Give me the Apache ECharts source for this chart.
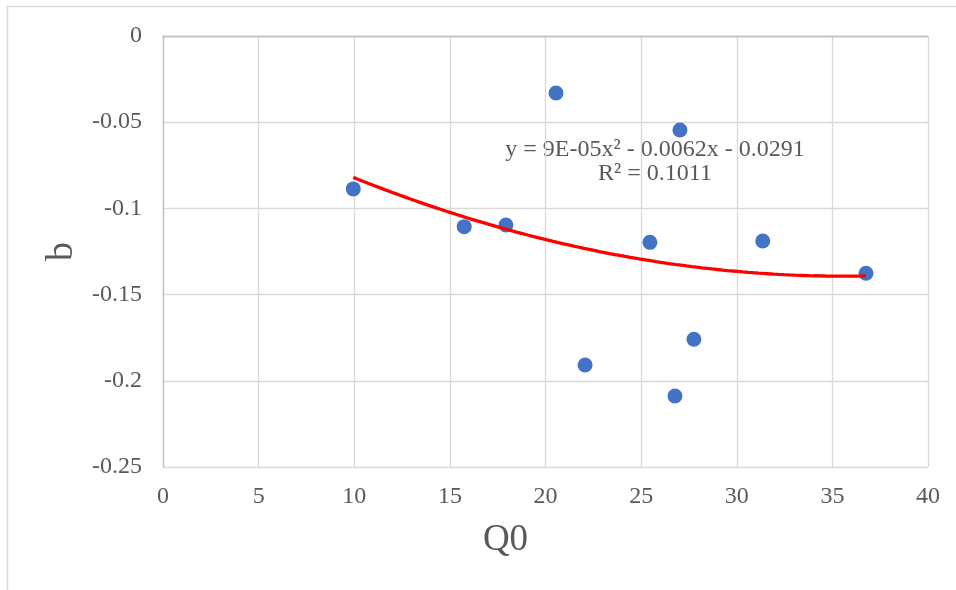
<!DOCTYPE html>
<html>
<head>
<meta charset="utf-8">
<script src="https://cdn.jsdelivr.net/npm/echarts@6/dist/echarts.min.js"></script>
<style>html,body{margin:0;padding:0;background:#fff}#c{width:956px;height:590px}</style>
</head>
<body>
<div id="c"></div>
<script>
// Data
var q0Values = [9.95, 15.75, 17.93, 20.55, 22.07, 25.46, 27.03, 26.77, 27.76, 31.36, 36.76];
var bValues = [-0.0887, -0.1106, -0.1096, -0.0331, -0.1908, -0.1197, -0.0545, -0.2088, -0.1759, -0.1189, -0.1376];
var xTicks = [0, 5, 10, 15, 20, 25, 30, 35, 40];
var yTicks = [-0.25, -0.2, -0.15, -0.1, -0.05, 0];
var equationLines = ['y = 9E-05x\u00b2 - 0.0062x - 0.0291', 'R\u00b2 = 0.1011'];
var xName = 'Q0';
var yName = 'b';

// Quadratic least squares trendline from the data
function polyFit2(xs, ys) {
  var n = xs.length, S = [0,0,0,0,0], T = [0,0,0];
  for (var i = 0; i < n; i++) {
    var p = 1;
    for (var k = 0; k < 5; k++) { S[k] += p; if (k < 3) T[k] += p * ys[i]; p *= xs[i]; }
  }
  var A = [[S[0],S[1],S[2],T[0]],[S[1],S[2],S[3],T[1]],[S[2],S[3],S[4],T[2]]];
  for (var c = 0; c < 3; c++) {
    for (var r = c + 1; r < 3; r++) {
      var f = A[r][c] / A[c][c];
      for (var j = c; j < 4; j++) A[r][j] -= f * A[c][j];
    }
  }
  var x = [0,0,0];
  for (var r2 = 2; r2 >= 0; r2--) {
    var s = A[r2][3];
    for (var j2 = r2 + 1; j2 < 3; j2++) s -= A[r2][j2] * x[j2];
    x[r2] = s / A[r2][r2];
  }
  return x; // c0, c1, c2
}
var coef = polyFit2(q0Values, bValues);
var xMin = Math.min.apply(null, q0Values), xMax = Math.max.apply(null, q0Values);
var trend = [];
for (var i = 0; i <= 100; i++) {
  var xv = xMin + (xMax - xMin) * i / 100;
  trend.push([xv, coef[0] + coef[1] * xv + coef[2] * xv * xv]);
}
var pts = q0Values.map(function (v, i) { return [v, bValues[i]]; });

var font = '"Liberation Serif", "Times New Roman", serif';
var chart = echarts.init(document.getElementById('c'), null, {renderer: 'canvas'});
chart.setOption({
  animation: false,
  backgroundColor: '#ffffff',
  grid: {left: 163, right: 28, top: 36, bottom: 123, containLabel: false},
  xAxis: [{
    type: 'value', min: xTicks[0], max: xTicks[xTicks.length - 1], interval: 5,
    position: 'bottom',
    name: xName, nameLocation: 'middle', nameGap: 55,
    nameTextStyle: {fontFamily: font, fontSize: 37, color: '#595959', padding: [0, 80, 0, 0]},
    axisLine: {show: false, onZero: false},
    axisTick: {show: false},
    axisLabel: {fontFamily: font, fontSize: 24, color: '#595959', margin: 18},
    splitLine: {show: true, lineStyle: {color: '#d9d9d9', width: 1.3}}
  }, {
    type: 'value', min: 0, max: 40, position: 'top',
    axisLine: {show: true, onZero: false, lineStyle: {color: '#bfbfbf', width: 1.3}},
    axisTick: {show: false}, axisLabel: {show: false}, splitLine: {show: false}
  }],
  yAxis: {
    type: 'value', min: yTicks[0], max: yTicks[yTicks.length - 1], interval: 0.05,
    name: yName, nameLocation: 'middle', nameGap: 78,
    nameTextStyle: {fontFamily: font, fontSize: 38, color: '#595959'},
    axisLine: {show: true, onZero: false, lineStyle: {color: '#bfbfbf', width: 1.3}},
    axisTick: {show: false},
    axisLabel: {fontFamily: font, fontSize: 24, color: '#595959', margin: 21,
      formatter: function (v) { return String(+(+v).toFixed(2)); }},
    splitLine: {show: true, lineStyle: {color: '#d9d9d9', width: 1.3}}
  },
  series: [{
    type: 'scatter', data: pts, symbol: 'circle', symbolSize: 15,
    itemStyle: {color: '#4472c4', opacity: 1}, z: 2
  }, {
    type: 'line', data: trend, showSymbol: false, smooth: false,
    lineStyle: {color: '#ff0000', width: 3.3}, z: 3, silent: true
  }],
  graphic: [
    {type: 'line', shape: {x1: 7, y1: 6.5, x2: 956, y2: 6.5}, style: {stroke: '#d9d9d9', lineWidth: 1.5}},
    {type: 'line', shape: {x1: 7.5, y1: 6, x2: 7.5, y2: 590}, style: {stroke: '#d9d9d9', lineWidth: 1.5}},
    {type: 'text', x: 655, y: 150, style: {text: equationLines[0], font: '24px ' + font, fill: '#595959', textAlign: 'center', textVerticalAlign: 'middle'}},
    {type: 'text', x: 655, y: 174, style: {text: equationLines[1], font: '24px ' + font, fill: '#595959', textAlign: 'center', textVerticalAlign: 'middle'}}
  ]
});
</script>
</body>
</html>
